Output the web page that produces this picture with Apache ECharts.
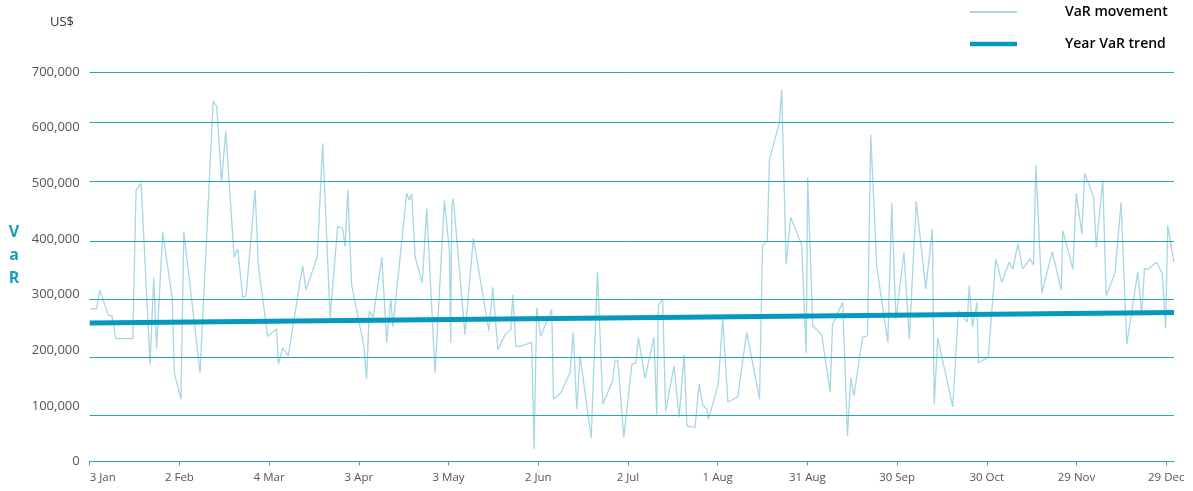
<!DOCTYPE html>
<html>
<head>
<meta charset="utf-8">
<script src="https://cdn.jsdelivr.net/npm/echarts@6/dist/echarts.min.js"></script>
<style>
html,body{margin:0;padding:0;background:#fff;}
#chart{width:1193px;height:491px;}
</style>
</head>
<body>
<div id="chart"></div>
<script>
// ---- data (day offset from 3 Jan, VaR in US$) ----
const tickLabels = ['3 Jan','2 Feb','4 Mar','3 Apr','3 May','2 Jun','2 Jul','1 Aug','31 Aug','30 Sep','30 Oct','29 Nov','29 Dec'];
const tickDays = [0,30,60,90,120,150,180,210,240,270,300,330,360];
const days = [0,2.3,3.4,6.2,7.4,8.7,14.4,15.5,17.2,20.2,21.4,22.4,24.4,27.6,28.3,30.5,31.5,36.9,41.3,42.5,44.1,45.5,48.3,49.5,51.2,52.3,55.3,56.4,59.5,62.5,63.1,64.5,66.4,71.2,72.3,73.7,76.1,77.9,80.4,82.9,84.6,85.4,86.3,87.6,91.7,92.6,93.5,94.8,97.7,99.3,100.7,101.4,106.0,106.9,107.7,108.8,111.2,112.7,115.5,118.6,120.3,120.7,121.1,121.6,125.5,128.3,133.5,134.8,136.5,138.9,140.8,141.5,142.5,144.0,147.8,148.6,149.5,150.8,154.5,155.1,157.6,160.6,161.7,162.9,164.0,167.7,169.8,171.6,174.8,175.7,176.6,178.6,181.3,182.6,183.5,185.7,188.7,189.6,190.2,191.6,192.6,195.4,197.1,198.8,199.7,202.4,203.8,205.0,206.4,206.9,210.2,211.7,213.4,216.7,219.7,224.0,225.0,226.6,227.3,230.6,231.4,232.9,234.4,238.1,239.6,240.1,241.8,244.8,247.6,248.4,251.8,253.4,254.5,255.6,258.4,260.1,261.2,263.2,266.9,268.2,269.6,272.3,274.1,276.4,279.6,281.8,282.4,283.6,288.6,290.5,293.5,294.1,295.2,296.7,297.2,300.5,303.0,305.0,307.5,308.7,310.4,312.0,314.5,315.6,316.4,318.4,321.9,324.9,325.4,328.8,329.9,331.8,332.7,335.7,336.6,338.8,339.9,342.9,344.9,346.8,350.5,351.8,352.7,354.0,356.8,358.7,359.8,360.5,362.6];
const varMovement = [274000,275000,308000,263000,262000,221000,221000,488000,500000,174000,330000,204000,412000,294000,159000,112000,412000,160000,648000,638000,503000,594000,367000,382000,295000,298000,488000,353000,225000,238000,175000,204000,190000,352000,308000,330000,368000,572000,258000,422000,419000,386000,488000,317000,207000,148000,271000,259000,367000,214000,292000,242000,482000,470000,481000,368000,321000,454000,159000,469000,379000,213000,460000,472000,228000,401000,235000,313000,201000,228000,237000,300000,207000,207000,214000,22000,276000,225000,273000,112000,124000,159000,232000,94000,190000,42000,340000,103000,144000,181000,181000,43000,175000,177000,223000,150000,223000,84000,280000,292000,90000,172000,80000,192000,64000,61000,139000,102000,94000,76000,139000,258000,107000,116000,232000,112000,388000,397000,542000,608000,668000,355000,439000,389000,195000,510000,244000,228000,124000,246000,286000,46000,150000,118000,223000,226000,587000,350000,214000,464000,256000,376000,220000,467000,310000,418000,103000,222000,98000,271000,251000,316000,242000,286000,178000,187000,364000,322000,358000,346000,391000,346000,364000,353000,533000,303000,377000,308000,415000,346000,482000,409000,518000,476000,385000,506000,298000,339000,466000,211000,341000,262000,346000,346000,358000,337000,240000,424000,358000];
const trendDays = [0, 362.6];
const trendValues = [249000, 268000];
// horizontal rules as drawn in the source (not evenly placed)
const ruleValues = [83000,188000,292000,396000,503000,610000,700000];

const chart = echarts.init(document.getElementById('chart'));
const FONT = '"Open Sans", "Liberation Sans", sans-serif';
chart.setOption({
  animation: false,
  backgroundColor: '#ffffff',
  grid: {left: 89.7, right: 19, top: 72, bottom: 29.5, containLabel: false},
  legend: {
    orient: 'vertical', left: 965, top: 0, itemGap: 18, itemWidth: 47, itemHeight: 14,
    textStyle: {fontFamily: FONT, fontSize: 14, fontWeight: 600, color: '#000', padding: [0,0,0,43]},
    data: [
      {name: 'VaR movement', icon: 'path://M0,0 M0,6 L47,6 L47,8 L0,8 Z M47,14'},
      {name: 'Year VaR trend', icon: 'path://M0,0 M0,4.8 L47,4.8 L47,9.3 L0,9.3 Z M47,14'}
    ]
  },
  graphic: [
    {type: 'text', left: 50, top: 16, style: {text: 'US$', fontFamily: FONT, fontSize: 13, fill: '#333'}},
    {type: 'text', x: 14, y: 255, style: {text: 'V\na\nR', fontFamily: FONT, fontSize: 16, fontWeight: 'bold', fill: '#1a9cc0', align: 'center', verticalAlign: 'middle', lineHeight: 23}}
  ],
  xAxis: {
    type: 'value', min: 0, max: 362.6, interval: 30,
    splitLine: {show: false},
    axisLine: {show: true, lineStyle: {color: '#2aa6c6', width: 1}},
    axisTick: {show: true, inside: false, length: 4, customValues: tickDays, lineStyle: {color: '#2aa6c6'}},
    axisLabel: {
      customValues: tickDays, margin: 10, fontFamily: FONT, fontSize: 11.5, color: '#555', alignMinLabel: 'left',
      formatter: v => { const i = tickDays.indexOf(Math.round(v)); return i >= 0 ? tickLabels[i] : ''; }
    }
  },
  yAxis: {
    type: 'value', min: 0, max: 700000, interval: 100000,
    splitLine: {show: false},
    axisLine: {show: false}, axisTick: {show: false},
    axisLabel: {margin: 10, fontFamily: FONT, fontSize: 13, color: '#555', formatter: v => v.toLocaleString('en-US')}
  },
  series: [
    {
      name: 'rules', type: 'line', data: [], z: 1, silent: true,
      markLine: {silent: true, symbol: 'none', label: {show: false},
        lineStyle: {color: '#27a4c4', width: 1, type: 'solid'},
        data: ruleValues.map(v => ({yAxis: v}))}
    },
    {
      name: 'VaR movement', type: 'line', z: 2, symbol: 'none', showSymbol: false,
      lineStyle: {color: '#a8d6e2', width: 1.3}, itemStyle: {color: '#a8d6e2'},
      data: days.map((d, i) => [d, varMovement[i]])
    },
    {
      name: 'Year VaR trend', type: 'line', z: 3, symbol: 'none', showSymbol: false,
      lineStyle: {color: '#0599bd', width: 5}, itemStyle: {color: '#0599bd'},
      data: trendDays.map((d, i) => [d, trendValues[i]])
    }
  ]
});
</script>
</body>
</html>
